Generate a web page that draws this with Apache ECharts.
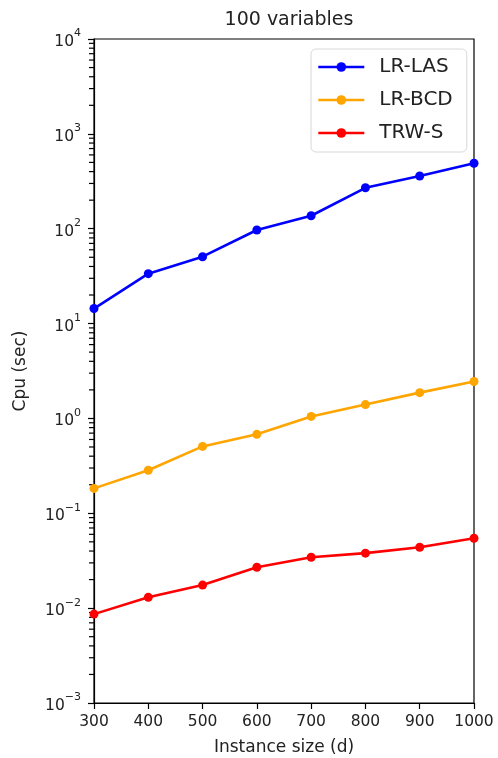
<!DOCTYPE html>
<html><head><meta charset="utf-8">
<script src="https://cdn.jsdelivr.net/npm/echarts@6/dist/echarts.min.js"></script>
<style>html,body{margin:0;padding:0;background:#fff}#c{width:498px;height:758px}</style>
</head><body><div id="c"></div>
<script>
const sizes = [300, 400, 500, 600, 700, 800, 900, 1000];
const lrLas = [14.4, 33.6, 50.7, 97, 137, 270, 360, 490];
const lrBcd = [0.183, 0.284, 0.507, 0.68, 1.05, 1.4, 1.87, 2.45];
const trwS  = [0.00865, 0.0130, 0.0175, 0.027, 0.0344, 0.038, 0.0438, 0.0546];
const seriesNames = ['LR-LAS', 'LR-BCD', 'TRW-S'];
const colors = ['#0000ff', '#ffa500', '#ff0000'];

const minorVals = [];
for (let e = -3; e < 4; e++) for (let m = 2; m <= 9; m++) minorVals.push(m * Math.pow(10, e));

const font = 'DejaVu Sans';
const chart = echarts.init(document.getElementById('c'));
const mk = (name, data, color) => ({
  name, type: 'line', data: sizes.map((s, i) => [s, data[i]]),
  symbol: 'circle', symbolSize: 9, z: 3,
  lineStyle: { color, width: 2.6 }, itemStyle: { color }
});
chart.setOption({
  animation: false,
  textStyle: { fontFamily: font },
  title: { text: '100 variables', left: 284, textAlign: 'center', top: 6,
    textStyle: { fontFamily: font, fontSize: 19, fontWeight: 'normal', color: '#222' } },
  grid: { left: 94, right: 24, top: 39, bottom: 55, outerBoundsMode: 'none', show: true, borderColor: '#000', borderWidth: 1.2, backgroundColor: 'transparent' },
  legend: {
    data: seriesNames, orient: 'vertical', left: 311, top: 49,
    backgroundColor: '#fff', borderColor: '#d8d8d8', borderWidth: 1, borderRadius: 5,
    padding: [7, 14, 8, 6], itemGap: 11, itemWidth: 46, itemHeight: 12,
    lineStyle: { width: 2.6 },
    textStyle: { fontFamily: font, fontSize: 20, color: '#222', lineHeight: 22, padding: [0, 0, 0, 10] }
  },
  xAxis: {
    type: 'value', min: 300, max: 1000, interval: 100,
    name: 'Instance size (d)', nameLocation: 'middle', nameGap: 36,
    nameTextStyle: { fontFamily: font, fontSize: 17, color: '#222' },
    axisLine: { show: true, lineStyle: { color: '#000', width: 1.2 } },
    axisTick: { show: true, length: 6, lineStyle: { color: '#000', width: 1.2 } },
    axisLabel: { fontFamily: font, fontSize: 15.5, color: '#222', margin: 11, formatter: v => String(v) },
    splitLine: { show: false }
  },
  yAxis: {
    type: 'log', logBase: 10, min: 0.001, max: 10000,
    name: 'Cpu (sec)', nameLocation: 'middle', nameGap: 65, nameRotate: 90,
    nameTextStyle: { fontFamily: font, fontSize: 17, color: '#222' },
    axisLine: { show: true, lineStyle: { color: '#000', width: 1.2 } },
    axisTick: { show: true, length: 6, lineStyle: { color: '#000', width: 1.2 } },
    axisLabel: {
      margin: 13, color: '#222',
      formatter: v => { const e = Math.round(Math.log10(v)); return '{b|10}{s|' + (e < 0 ? '\u2212' + (-e) : e) + '}'; },
      rich: {
        b: { fontFamily: font, fontSize: 15.5, color: '#222', lineHeight: 22, verticalAlign: 'bottom' },
        s: { fontFamily: font, fontSize: 11, color: '#222', verticalAlign: 'top', lineHeight: 22 }
      }
    },
    splitLine: { show: false }
  },
  series: [
    mk(seriesNames[0], lrLas, colors[0]),
    mk(seriesNames[1], lrBcd, colors[1]),
    mk(seriesNames[2], trwS, colors[2]),
    {
      name: 'minorTicks', type: 'scatter', silent: true, clip: false, z: 1,
      data: minorVals.map(v => [300, v]),
      symbol: 'rect', symbolSize: [5, 1.2], symbolOffset: [-2.5, 0],
      itemStyle: { color: '#000', opacity: 1 }, tooltip: { show: false }
    }
  ]
});
</script></body></html>
